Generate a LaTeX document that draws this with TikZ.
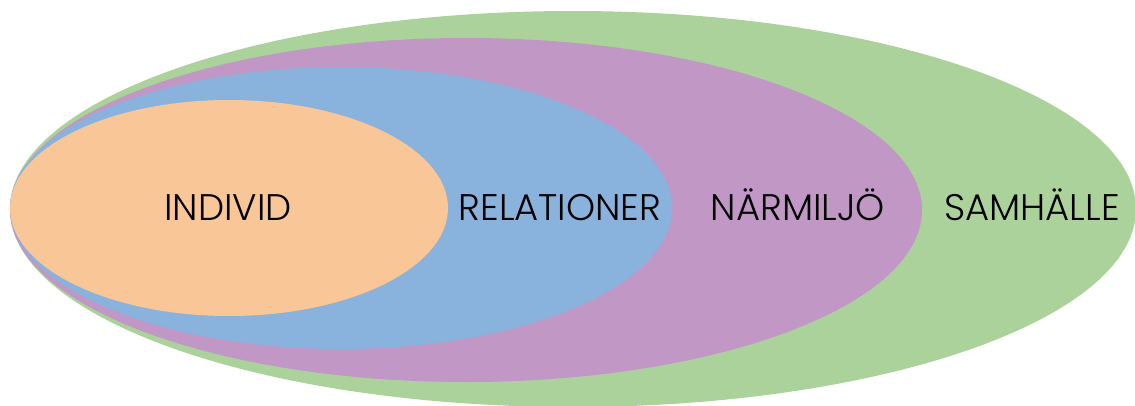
\documentclass[tikz,border=0pt]{standalone}
\usepackage{fontspec}
\setmainfont{Poppins}[UprightFont=* Light]
\definecolor{cgreen}{RGB}{171,210,155}
\definecolor{cpurple}{RGB}{193,151,197}
\definecolor{cblue}{RGB}{137,178,221}
\definecolor{corange}{RGB}{249,198,151}
\tikzset{lbl/.style={font=\fontsize{37}{42}\selectfont, text=black, inner sep=0pt, anchor=base}}
\begin{document}
\begin{tikzpicture}[x=1pt,y=-1pt]
\useasboundingbox (0,0) rectangle (1135,405);
\clip (0,0) rectangle (1135,405);
\fill[cgreen] (573,209) ellipse [x radius=563, y radius=198];
\fill[cpurple] (466,210) ellipse [x radius=456, y radius=172];
\fill[cblue] (341,208) ellipse [x radius=331, y radius=141];
\fill[corange] (229,208) ellipse [x radius=219, y radius=108];
\node[lbl] (individ) at (228,220) {INDIVID};
\node[lbl] (relationer) at (560,220) {RELATIONER};
\node[lbl] (narmiljo) at (798,220) {NÄRMILJÖ};
\node[lbl] (samhalle) at (1032,220) {SAMHÄLLE};
\end{tikzpicture}
\end{document}
